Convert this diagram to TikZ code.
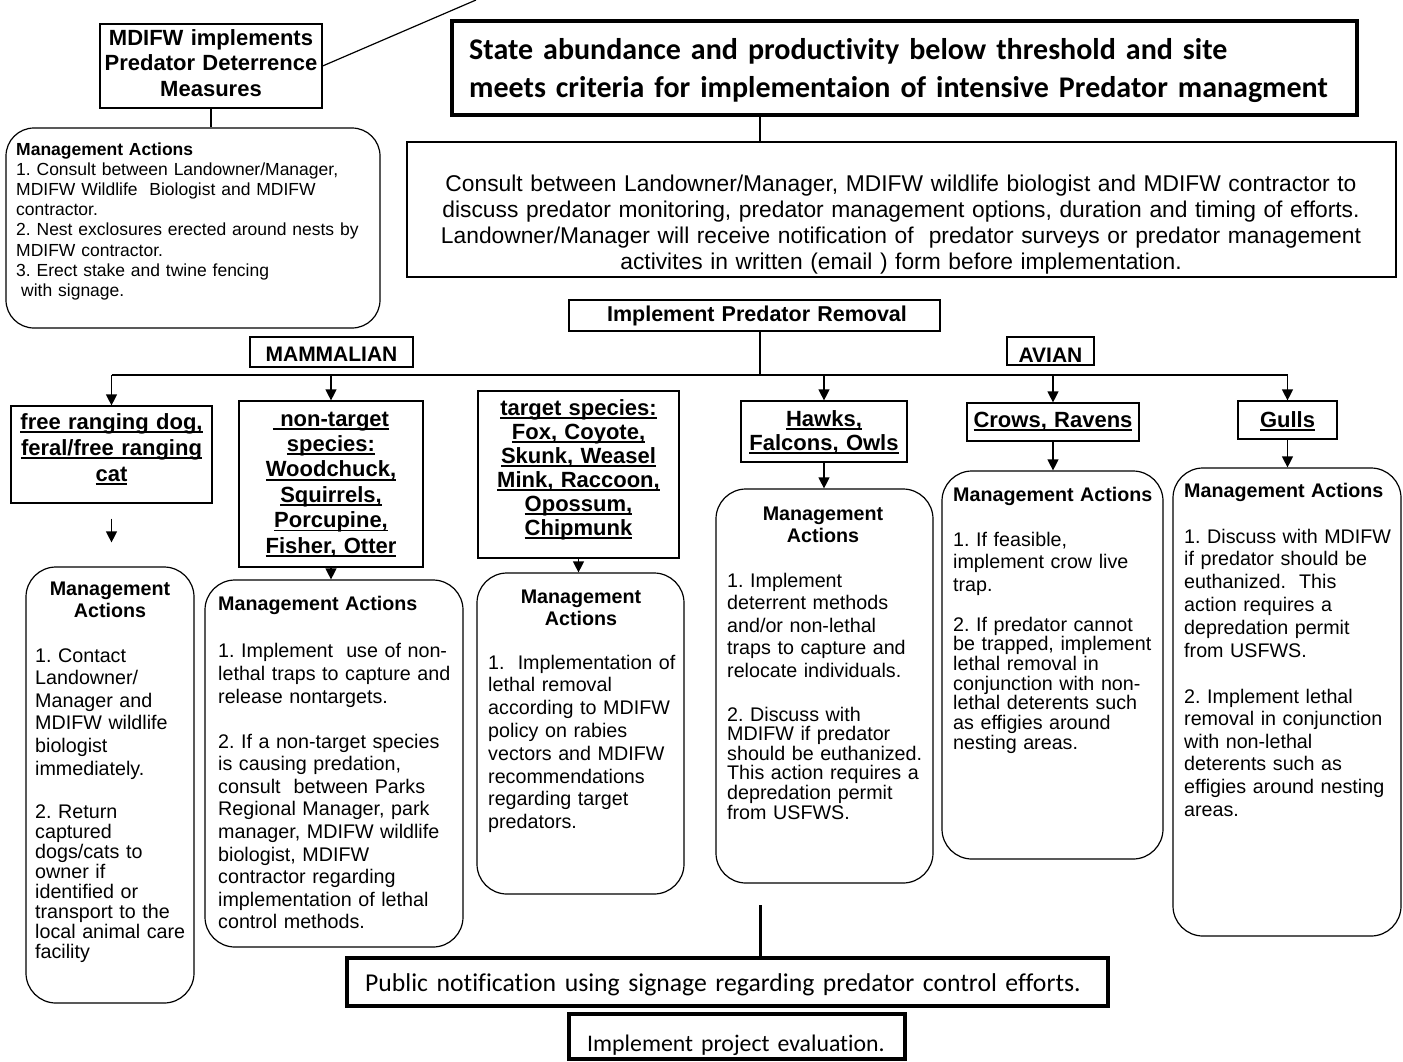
\documentclass[tikz,border=0pt]{standalone}
\usepackage{fontspec}
\setmainfont{Liberation Sans}
\newfontfamily\carl[Ligatures=CommonOff]{Carlito}
\usetikzlibrary{fit,arrows.meta}
\frenchspacing
\newcommand\ulx[1]{\leavevmode\setbox0\hbox{#1}\rlap{\rule[-0.17em]{\wd0}{0.08em}}\box0}
\tikzset{
  box/.style={draw, line width=1.2pt, inner sep=0pt},
  rbox/.style={box, rounded corners=30pt},
  tbox/.style={draw, line width=3.5pt, inner sep=0pt},
  txt/.style={inner sep=0pt, anchor=base west, align=left, text width=300pt},
  ctxt/.style={inner sep=0pt, anchor=base, align=center, text width=300pt},
  hdr/.style={font=\bfseries\fontsize{19.7}{22}\selectfont},
  cat/.style={font=\bfseries\fontsize{22}{25.3}\selectfont},
  con/.style={line width=1.2pt},
  arr/.style={line width=1.2pt, -{Triangle[width=11pt,length=11pt]}},
}
\begin{document}
\begin{tikzpicture}[x=1pt,y=-1pt]
\useasboundingbox (0,0) rectangle (1403,1061);
\coordinate (mx) at (760,0);
\coordinate (topend) at (476,0);
\coordinate (bar) at (760,375);
\coordinate (pubtop) at (760,905);

% ---------- top left ----------
\node[box, fit={(100,24)(322,108)}] (mdi) {};
\node[ctxt, font=\bfseries\fontsize{22}{25.5}\selectfont] (mdit) at (211,45) {MDIFW implements\\Predator Deterrence\\Measures};
\draw[con] (mdi.east) -- (topend);

\node[rbox, rounded corners=28pt, fit={(6,128)(380,328)}] (ma0) {};
\draw[con] (mdi.south) -- (mdi.south |- ma0.north);
\node[txt, text width=370pt, font=\fontsize{17.5}{20.2}\selectfont] (ma0t) at (16,155)
  {\textbf{Management Actions}\\1. Consult between Landowner/Manager,\\MDIFW Wildlife\ \ Biologist and MDIFW\\contractor.\\2. Nest exclosures erected around nests by\\MDIFW contractor.\\3. Erect stake and twine fencing\\\hspace*{5pt}with signage.};

% ---------- title and consult ----------
\node[tbox, fit={(452,21)(1357,115)}] (title) {};
\node[txt, text width=900pt, font=\carl\bfseries\fontsize{30}{38}\selectfont] (titlet) at (469,59)
  {State abundance and productivity below threshold and site\\meets criteria for implementaion of intensive Predator managment};

\node[box, fit={(407,142)(1396,277)}] (cons) {};
\draw[con] (title.south -| mx) -- (cons.north -| mx);
\node[ctxt, text width=1000pt, font=\fontsize{22.8}{26}\selectfont] (const) at (901,191)
  {Consult between Landowner/Manager, MDIFW wildlife biologist and MDIFW contractor to\\discuss predator monitoring, predator management options, duration and timing of efforts.\\Landowner/Manager will receive notification of\ \ predator surveys or predator management\\activites in written (email ) form before implementation.};

\node[box, fit={(569,300)(940,331)}] (ipr) {};
\node[ctxt, font=\bfseries\fontsize{21.5}{25}\selectfont] (iprt) at (757,321) {Implement Predator Removal};

% ---------- group labels ----------
\node[box, fit={(250,337)(413,367)}] (mam) {};
\node[ctxt, font=\bfseries\fontsize{21}{25}\selectfont] (mamt) at (331.5,361) {MAMMALIAN};
\node[box, fit={(1007,337)(1094,365)}] (avi) {};
\node[ctxt, font=\bfseries\fontsize{21}{25}\selectfont] (avit) at (1050.5,362) {AVIAN};

% ---------- category boxes ----------
\node[box, fit={(11,406)(212,503)}] (fr) {};
\node[ctxt, font=\bfseries\fontsize{22}{26}\selectfont] (frt) at (111.5,429)
  {\ulx{free ranging dog,}\\\ulx{feral/free ranging}\\\ulx{cat}};
\node[box, fit={(239,401)(423,567)}] (nt) {};
\node[ctxt, font=\bfseries\fontsize{22}{25.4}\selectfont] (ntt) at (331,426)
  {\ulx{\ non-target}\\\ulx{species:}\\\ulx{Woodchuck,}\\\ulx{Squirrels,}\\\ulx{Porcupine,}\\\ulx{Fisher, Otter}};
\node[box, fit={(478,391)(679,558)}] (ts) {};
\node[ctxt, font=\bfseries\fontsize{22}{24}\selectfont] (tst) at (578.5,415)
  {\ulx{target species:}\\\ulx{Fox, Coyote,}\\\ulx{Skunk, Weasel}\\\ulx{Mink, Raccoon,}\\\ulx{Opossum,}\\\ulx{Chipmunk}};
\node[box, fit={(741,401)(907,462)}] (hk) {};
\node[ctxt, font=\bfseries\fontsize{22}{24.5}\selectfont] (hkt) at (824,426)
  {\ulx{Hawks,}\\\ulx{Falcons, Owls}};
\node[box, fit={(967,403)(1139,441)}] (cr) {};
\node[ctxt, cat] (crt) at (1053,427) {\ulx{Crows, Ravens}};
\node[box, fit={(1238,401)(1337,439)}] (gu) {};
\node[ctxt, cat] (gut) at (1287.5,427) {\ulx{Gulls}};

% ---------- distribution bar ----------
\draw[con] (ipr.south -| mx) -- (bar);
\draw[con] (fr.north |- bar) -- (gu.north |- bar);
\draw[arr] (fr.north |- bar) -- (fr.north);
\draw[arr] (nt.north |- bar) -- (nt.north);
\draw[arr] (hk.north |- bar) -- (hk.north);
\draw[arr] (cr.north |- bar) -- (cr.north);
\draw[arr] (gu.north |- bar) -- (gu.north);

% ---------- management boxes ----------
\node[rbox, fit={(26,567)(194,1003)}] (ma1) {};
\node[rbox, fit={(205,580)(463,947)}] (ma2) {};
\node[rbox, fit={(477,573)(684,894)}] (ma3) {};
\node[rbox, fit={(716,489)(933,883)}] (ma4) {};
\node[rbox, fit={(942,471)(1163,859)}] (ma5) {};
\node[rbox, fit={(1173,468)(1401,936)}] (ma6) {};

\draw[arr, shorten <=15pt, shorten >=24pt] (fr.south) -- (fr.south |- ma1.north);
\draw[arr] (nt.south) -- (nt.south |- ma2.north);
\draw[arr] (ts.south) -- (ts.south |- ma3.north);
\draw[arr] (hk.south) -- (hk.south |- ma4.north);
\draw[arr] (cr.south) -- (cr.south |- ma5.north);
\draw[arr] (gu.south) -- (gu.south |- ma6.north);

% ma1
\node[ctxt, hdr] (ma1h) at (110,595) {Management\\Actions};
\node[txt, font=\fontsize{19.7}{22.6}\selectfont] (ma1a) at (35,662)
  {1. Contact\\Landowner/\\Manager and\\MDIFW wildlife\\biologist\\immediately.};
\node[txt, font=\fontsize{19.7}{20}\selectfont] (ma1b) at (35,818)
  {2. Return\\captured\\dogs/cats to\\owner if\\identified or\\transport to the\\local animal care\\facility};
% ma2
\node[txt, hdr] (ma2h) at (218,610) {Management Actions};
\node[txt, font=\fontsize{19.7}{23}\selectfont] (ma2a) at (218,657)
  {1. Implement\ \ use of non-\\lethal traps to capture and\\release nontargets.};
\node[txt, font=\fontsize{19.7}{22.6}\selectfont] (ma2b) at (218,748)
  {2. If a non-target species\\is causing predation,\\consult\ \ between Parks\\Regional Manager, park\\manager, MDIFW wildlife\\biologist, MDIFW\\contractor regarding\\implementation of lethal\\control methods.};
% ma3
\node[ctxt, hdr] (ma3h) at (581,603) {Management\\Actions};
\node[txt, font=\fontsize{19.7}{22.8}\selectfont] (ma3a) at (488,669)
  {1.\ \ Implementation of\\lethal removal\\according to MDIFW\\policy on rabies\\vectors and MDIFW\\recommendations\\regarding target\\predators.};
% ma4
\node[ctxt, hdr] (ma4h) at (823,520) {Management\\Actions};
\node[txt, font=\fontsize{19.7}{22.5}\selectfont] (ma4a) at (727,587)
  {1. Implement\\deterrent methods\\and/or non-lethal\\traps to capture and\\relocate individuals.};
\node[txt, font=\fontsize{19.7}{19.6}\selectfont] (ma4b) at (727,721)
  {2. Discuss with\\MDIFW if predator\\should be euthanized.\\This action requires a\\depredation permit\\from USFWS.};
% ma5
\node[txt, hdr] (ma5h) at (953,501) {Management Actions};
\node[txt, font=\fontsize{19.7}{22.5}\selectfont] (ma5a) at (953,546)
  {1. If feasible,\\implement crow live\\trap.};
\node[txt, font=\fontsize{19.7}{19.7}\selectfont] (ma5b) at (953,631)
  {2. If predator cannot\\be trapped, implement\\lethal removal in\\conjunction with non-\\lethal deterents such\\as effigies around\\nesting areas.};
% ma6
\node[txt, hdr] (ma6h) at (1184,497) {Management Actions};
\node[txt, font=\fontsize{19.7}{22.8}\selectfont] (ma6a) at (1184,543)
  {1. Discuss with MDIFW\\if predator should be\\euthanized.\ \ This\\action requires a\\depredation permit\\from USFWS.};
\node[txt, font=\fontsize{19.7}{22.6}\selectfont] (ma6b) at (1184,703)
  {2. Implement lethal\\removal in conjunction\\with non-lethal\\deterents such as\\effigies around nesting\\areas.};

% ---------- bottom ----------
\node[draw, line width=4pt, inner sep=0pt, fit={(347,958)(1108,1006)}] (pub) {};
\draw[line width=3pt] (pubtop) -- (pubtop |- pub.north);
\node[txt, text width=800pt, font=\carl\fontsize{25.7}{30}\selectfont] (pubt) at (365,991)
  {Public notification using signage regarding predator control efforts.};
\node[draw, line width=3.5pt, inner sep=0pt, fit={(569,1014)(905,1059)}] (ev) {};
\node[txt, font=\carl\fontsize{23.8}{28}\selectfont] (evt) at (587,1051)
  {Implement project evaluation.};
\end{tikzpicture}
\end{document}
